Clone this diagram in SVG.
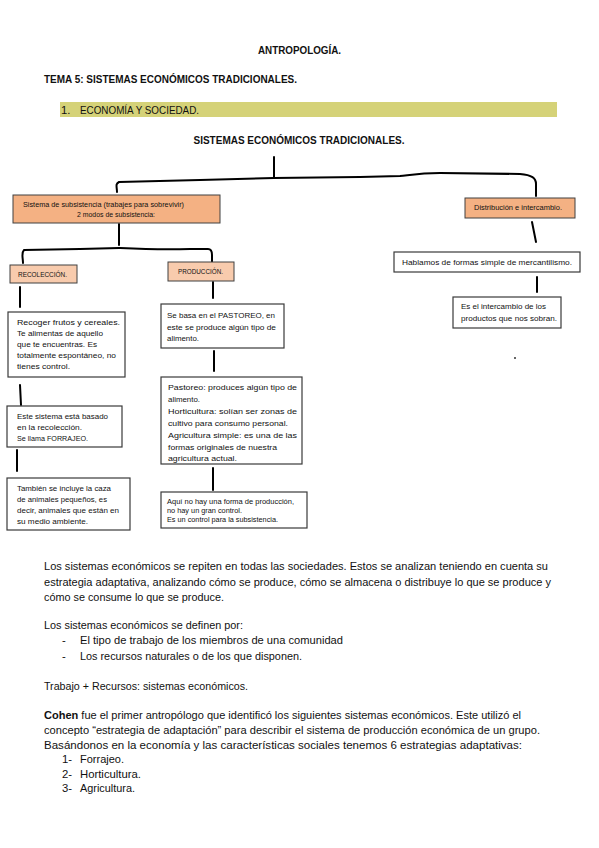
<svg xmlns="http://www.w3.org/2000/svg" width="599" height="848" viewBox="0 0 599 848">
<style>
.h{font-family:'Liberation Sans',Arial,sans-serif;font-weight:bold;font-size:10.5px;fill:#111}
.t{font-family:'Liberation Sans',Arial,sans-serif;font-size:11.3px;fill:#111}
.b{font-family:'Liberation Sans',Arial,sans-serif;font-size:7.4px;fill:#111}
.s{font-family:'Liberation Sans',Arial,sans-serif;font-size:6.6px;fill:#111}
.wb{fill:#fff;stroke:#3a3a3a;stroke-width:1.2}
.ob{fill:#f4b183;stroke:#404040;stroke-width:1}
.lb{fill:#f8cbad;stroke:#404040;stroke-width:1}
.c{fill:none;stroke:#000;stroke-width:2;stroke-linecap:round;stroke-linejoin:round}
</style>
<rect width="599" height="848" fill="#fff"/>
<g id="header">
<text class="h" x="299.5" y="54" text-anchor="middle" textLength="83" lengthAdjust="spacingAndGlyphs">ANTROPOLOGÍA.</text>
<text class="h" x="44" y="83" textLength="253" lengthAdjust="spacingAndGlyphs">TEMA 5: SISTEMAS ECONÓMICOS TRADICIONALES.</text>
<rect x="60" y="102" width="497" height="15" fill="#d5d278"/>
<text class="t" x="61" y="114" font-size="10.5">1.</text>
<text class="t" x="80" y="114" font-size="10.5" textLength="119" lengthAdjust="spacingAndGlyphs">ECONOMÍA Y SOCIEDAD.</text>
<text class="h" x="299" y="144" text-anchor="middle" textLength="211" lengthAdjust="spacingAndGlyphs">SISTEMAS ECONÓMICOS TRADICIONALES.</text>
</g>
<g id="connectors">
<path class="c" d="M274,157 L274,178"/>
<path class="c" d="M117,192 C117,187 115,184 119,182 L200,180 L274,178 L360,177 L400,176 C410,175 420,173 440,173 L520,174 C532,175 536,178 536,184 L536,196"/>
<path class="c" d="M119,224 L119,245"/>
<path class="c" d="M23,263 C23,258 21,253 24,250 L80,249 L119,248 C140,249 160,250 190,249 L208,249 C211,249 212,251 212,255 L212,262"/>
<path class="c" d="M20,287 L20,307"/>
<path class="c" d="M20,385 L21,405"/>
<path class="c" d="M17,450 L17,471"/>
<path class="c" d="M213,282 L213,298"/>
<path class="c" d="M214,351 L214,371"/>
<path class="c" d="M213,468 L213,490"/>
<path class="c" d="M532,222 L536,242"/>
<path class="c" d="M537,277 L537,292"/>
</g>
<g id="subsistencia">
<rect class="ob" x="13" y="195" width="207" height="28"/>
<text class="s" x="23" y="207" textLength="161" lengthAdjust="spacingAndGlyphs">Sistema de subsistencia (trabajes para sobrevivir)</text>
<text class="s" x="77" y="217" textLength="78" lengthAdjust="spacingAndGlyphs">2 modos de subsistencia:</text>
</g>
<g id="distribucion">
<rect class="ob" x="465" y="198" width="110" height="20"/>
<text class="s" x="474" y="210" textLength="88" lengthAdjust="spacingAndGlyphs">Distribución e intercambio.</text>
</g>
<g id="recoleccion">
<rect class="lb" x="10" y="265" width="67" height="18"/>
<text class="s" x="18" y="277" textLength="49" lengthAdjust="spacingAndGlyphs">RECOLECCIÓN.</text>
</g>
<g id="produccion">
<rect class="lb" x="168" y="262" width="66" height="19"/>
<text class="s" x="178" y="274" textLength="45" lengthAdjust="spacingAndGlyphs">PRODUCCIÓN.</text>
</g>
<g id="mercantilismo">
<rect class="wb" x="394" y="252" width="186" height="20"/>
<text class="b" x="402" y="265" textLength="170" lengthAdjust="spacingAndGlyphs">Hablamos de formas simple de mercantilismo.</text>
</g>
<g id="intercambio">
<rect class="wb" x="453" y="297" width="108" height="31"/>
<text class="b" x="461" y="309" textLength="85" lengthAdjust="spacingAndGlyphs">Es el intercambio de los</text>
<text class="b" x="461" y="321" textLength="96" lengthAdjust="spacingAndGlyphs">productos que nos sobran.</text>
</g>
<circle cx="515" cy="358" r="1" fill="#333"/>
<g id="recoger">
<rect class="wb" x="8" y="312" width="117" height="65"/>
<text class="b" x="17" y="325" textLength="103" lengthAdjust="spacingAndGlyphs">Recoger frutos y cereales.</text>
<text class="b" x="17" y="336" textLength="86" lengthAdjust="spacingAndGlyphs">Te alimentas de aquello</text>
<text class="b" x="17" y="347" textLength="80" lengthAdjust="spacingAndGlyphs">que te encuentras. Es</text>
<text class="b" x="17" y="358" textLength="99" lengthAdjust="spacingAndGlyphs">totalmente espontáneo, no</text>
<text class="b" x="17" y="369" textLength="53" lengthAdjust="spacingAndGlyphs">tienes control.</text>
</g>
<g id="forrajeo">
<rect class="wb" x="7" y="406" width="115" height="41"/>
<text class="b" x="17" y="419" textLength="91" lengthAdjust="spacingAndGlyphs">Este sistema está basado</text>
<text class="b" x="17" y="430" textLength="65" lengthAdjust="spacingAndGlyphs">en la recolección.</text>
<text class="b" x="17" y="441" textLength="71" lengthAdjust="spacingAndGlyphs">Se llama FORRAJEO.</text>
</g>
<g id="caza">
<rect class="wb" x="7" y="478" width="123" height="52"/>
<text class="b" x="17" y="491" textLength="94" lengthAdjust="spacingAndGlyphs">También se incluye la caza</text>
<text class="b" x="17" y="502" textLength="90" lengthAdjust="spacingAndGlyphs">de animales pequeños, es</text>
<text class="b" x="17" y="513" textLength="102" lengthAdjust="spacingAndGlyphs">decir, animales que están en</text>
<text class="b" x="17" y="524" textLength="71" lengthAdjust="spacingAndGlyphs">su medio ambiente.</text>
</g>
<g id="pastoreo">
<rect class="wb" x="161" y="304" width="123" height="44"/>
<text class="b" x="167" y="318" textLength="108" lengthAdjust="spacingAndGlyphs">Se basa en el PASTOREO, en</text>
<text class="b" x="167" y="330" textLength="109" lengthAdjust="spacingAndGlyphs">este se produce algún tipo de</text>
<text class="b" x="167" y="341" textLength="32" lengthAdjust="spacingAndGlyphs">alimento.</text>
</g>
<g id="tipos">
<rect class="wb" x="161" y="377" width="141" height="87"/>
<text class="b" x="168" y="390" textLength="129" lengthAdjust="spacingAndGlyphs">Pastoreo: produces algún tipo de</text>
<text class="b" x="168" y="402" textLength="32" lengthAdjust="spacingAndGlyphs">alimento.</text>
<text class="b" x="168" y="414" textLength="129" lengthAdjust="spacingAndGlyphs">Horticultura: solían ser zonas de</text>
<text class="b" x="168" y="426" textLength="120" lengthAdjust="spacingAndGlyphs">cultivo para consumo personal.</text>
<text class="b" x="168" y="438" textLength="129" lengthAdjust="spacingAndGlyphs">Agricultura simple: es una de las</text>
<text class="b" x="168" y="450" textLength="109" lengthAdjust="spacingAndGlyphs">formas originales de nuestra</text>
<text class="b" x="168" y="461" textLength="69" lengthAdjust="spacingAndGlyphs">agricultura actual.</text>
</g>
<g id="control">
<rect class="wb" x="161" y="492" width="146" height="36"/>
<text class="s" x="167" y="504" textLength="127" lengthAdjust="spacingAndGlyphs">Aquí no hay una forma de producción,</text>
<text class="s" x="167" y="513" textLength="75" lengthAdjust="spacingAndGlyphs">no hay un gran control.</text>
<text class="s" x="167" y="522" textLength="111" lengthAdjust="spacingAndGlyphs">Es un control para la subsistencia.</text>
</g>
<g id="body">
<text class="t" x="44" y="570" textLength="504" lengthAdjust="spacingAndGlyphs">Los sistemas económicos se repiten en todas las sociedades.  Estos se analizan teniendo en cuenta su</text>
<text class="t" x="44" y="586" textLength="507" lengthAdjust="spacingAndGlyphs">estrategia adaptativa, analizando cómo se produce, cómo se almacena o distribuye lo que se produce y</text>
<text class="t" x="44" y="601" textLength="180" lengthAdjust="spacingAndGlyphs">cómo se consume lo que se produce.</text>
<text class="t" x="44" y="629" textLength="199" lengthAdjust="spacingAndGlyphs">Los sistemas económicos se definen por:</text>
<text class="t" x="62" y="644">-</text>
<text class="t" x="80" y="644" textLength="263" lengthAdjust="spacingAndGlyphs">El tipo de trabajo de los miembros de una comunidad</text>
<text class="t" x="62" y="660">-</text>
<text class="t" x="80" y="660" textLength="222" lengthAdjust="spacingAndGlyphs">Los recursos naturales o de los que disponen.</text>
<text class="t" x="44" y="690" textLength="204" lengthAdjust="spacingAndGlyphs">Trabajo + Recursos: sistemas económicos.</text>
<text class="t" x="44" y="719" textLength="477" lengthAdjust="spacingAndGlyphs"><tspan font-weight="bold">Cohen</tspan> fue el primer antropólogo que identificó los siguientes sistemas económicos.  Este utilizó el</text>
<text class="t" x="44" y="734" textLength="496" lengthAdjust="spacingAndGlyphs">concepto “estrategia de adaptación” para describir el sistema de producción económica de un grupo.</text>
<text class="t" x="44" y="749" textLength="478" lengthAdjust="spacingAndGlyphs">Basándonos en la economía y las características sociales tenemos 6  estrategias adaptativas:</text>
<text class="t" x="62" y="763">1-</text>
<text class="t" x="80" y="763" textLength="44" lengthAdjust="spacingAndGlyphs">Forrajeo.</text>
<text class="t" x="62" y="778">2-</text>
<text class="t" x="80" y="778" textLength="61" lengthAdjust="spacingAndGlyphs">Horticultura.</text>
<text class="t" x="62" y="792">3-</text>
<text class="t" x="80" y="792" textLength="55" lengthAdjust="spacingAndGlyphs">Agricultura.</text>
</g>
</svg>
